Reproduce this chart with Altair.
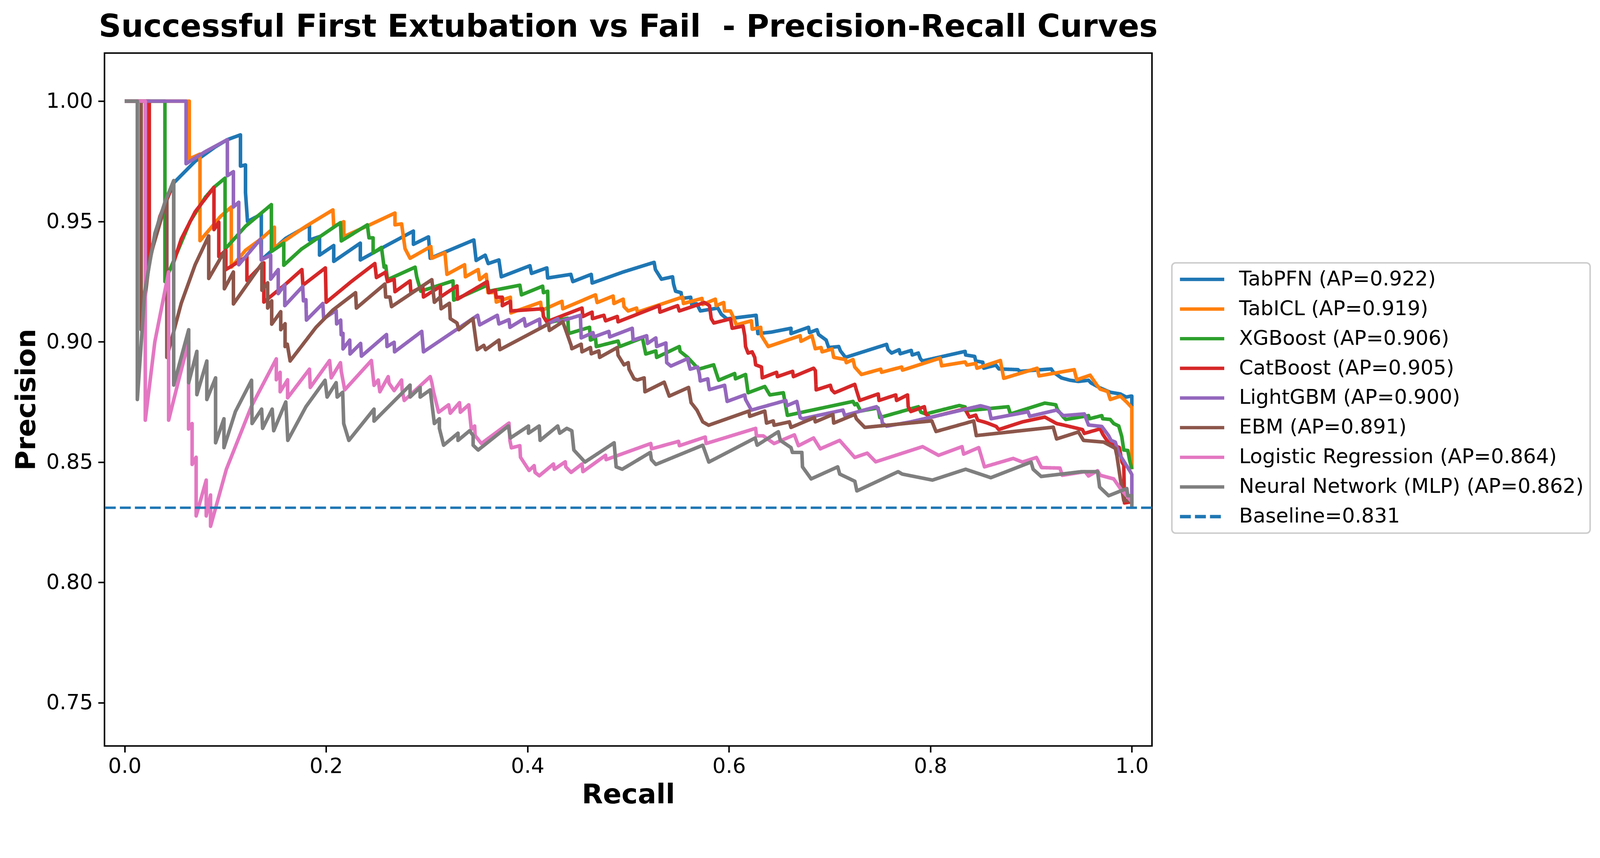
import altair as alt
import pandas as pd

labels = [
    "TabPFN (AP=0.922)",
    "TabICL (AP=0.919)",
    "XGBoost (AP=0.906)",
    "CatBoost (AP=0.905)",
    "LightGBM (AP=0.900)",
    "EBM (AP=0.891)",
    "Logistic Regression (AP=0.864)",
    "Neural Network (MLP) (AP=0.862)",
]
baseline_label = "Baseline=0.831"
baseline_value = 0.831
colors = ["#1f77b4", "#ff7f0e", "#2ca02c", "#d62728", "#9467bd", "#8c564b", "#e377c2", "#7f7f7f"]
baseline_color = "#1f77b4"

x_ticks = [0.0, 0.2, 0.4, 0.6, 0.8, 1.0]
y_ticks = [0.75, 0.80, 0.85, 0.90, 0.95, 1.00]

# (recall, precision)
tabpfn = [(0.0,1.0),(0.0216,1.0),(0.0216,0.930),(0.035,0.952),(0.0487,0.966),(0.07,0.975),(0.09,0.981),(0.102,0.984),(0.115,0.986),(0.115,0.973),(0.120,0.9735),(0.120,0.962),(0.122,0.950),(0.1357,0.953),(0.1357,0.934),(0.160,0.943),(0.1835,0.9486),(0.1835,0.9423),(0.1935,0.9437),(0.1935,0.936),(0.2076,0.940),(0.2076,0.9334),(0.234,0.941),(0.234,0.934),(0.260,0.940),(0.2867,0.946),(0.2867,0.9405),(0.3017,0.9436),(0.3034,0.9347),(0.3467,0.9423),(0.349,0.9338),(0.358,0.936),(0.361,0.9325),(0.3716,0.934),(0.374,0.927),(0.4024,0.9316),(0.404,0.9284),(0.4192,0.9307),(0.420,0.9265),(0.443,0.928),(0.445,0.925),(0.4633,0.928),(0.4642,0.9244),(0.495,0.929),(0.5257,0.933),(0.527,0.930),(0.533,0.926),(0.544,0.927),(0.545,0.924),(0.547,0.921),(0.5525,0.9204),(0.5532,0.918),(0.562,0.9185),(0.563,0.9155),(0.568,0.9158),(0.5716,0.9128),(0.589,0.914),(0.5925,0.9114),(0.598,0.9095),(0.627,0.911),(0.6287,0.9034),(0.642,0.904),(0.6616,0.9056),(0.6616,0.9034),(0.679,0.906),(0.680,0.9038),(0.6874,0.905),(0.689,0.903),(0.6965,0.9007),(0.699,0.8976),(0.709,0.898),(0.7107,0.8962),(0.7157,0.8935),(0.7565,0.8989),(0.758,0.8967),(0.7615,0.8953),(0.769,0.8967),(0.770,0.895),(0.781,0.8964),(0.782,0.8945),(0.788,0.8953),(0.790,0.893),(0.792,0.892),(0.8345,0.896),(0.835,0.8945),(0.844,0.8939),(0.845,0.892),(0.852,0.8915),(0.853,0.889),(0.865,0.8903),(0.868,0.8887),(0.887,0.8884),(0.8887,0.8877),(0.920,0.8887),(0.922,0.8874),(0.930,0.885),(0.9386,0.884),(0.947,0.8835),(0.957,0.884),(0.9594,0.8829),(0.968,0.8809),(0.9786,0.879),(0.9886,0.8783),(0.9944,0.877),(0.999,0.8774),(1.0,0.8774),(1.0,0.873)]

tabicl = [(0.0,1.0),(0.0642,1.0),(0.0642,0.976),(0.0748,0.978),(0.0748,0.942),(0.085,0.947),(0.095,0.952),(0.1059,0.956),(0.1059,0.931),(0.120,0.938),(0.1363,0.943),(0.1487,0.9476),(0.1487,0.939),(0.1568,0.9414),(0.180,0.948),(0.2068,0.9548),(0.2076,0.948),(0.2176,0.9499),(0.2176,0.9437),(0.2434,0.9486),(0.2684,0.9535),(0.2684,0.9486),(0.275,0.949),(0.2784,0.9387),(0.2834,0.9347),(0.304,0.9396),(0.305,0.9347),(0.318,0.937),(0.320,0.928),(0.3375,0.932),(0.3383,0.927),(0.351,0.930),(0.3525,0.9258),(0.359,0.928),(0.3608,0.9204),(0.368,0.9205),(0.369,0.9165),(0.383,0.9185),(0.3835,0.912),(0.413,0.9164),(0.414,0.913),(0.4342,0.9168),(0.435,0.9137),(0.4675,0.9195),(0.4691,0.9163),(0.485,0.919),(0.4858,0.9159),(0.495,0.9177),(0.4958,0.9146),(0.4999,0.9128),(0.5083,0.914),(0.5091,0.9123),(0.554,0.9186),(0.5548,0.9159),(0.5732,0.918),(0.574,0.9155),(0.5865,0.9177),(0.5873,0.915),(0.5948,0.9163),(0.5956,0.9128),(0.6015,0.9128),(0.605,0.9096),(0.6073,0.907),(0.6223,0.9087),(0.6231,0.9052),(0.6315,0.906),(0.6323,0.9025),(0.639,0.898),(0.6707,0.9025),(0.6715,0.9002),(0.6824,0.9025),(0.6857,0.8971),(0.6915,0.8976),(0.6925,0.8958),(0.7024,0.897),(0.704,0.8935),(0.7157,0.8926),(0.7165,0.8913),(0.7232,0.8926),(0.7249,0.8895),(0.7315,0.8864),(0.7507,0.8886),(0.7515,0.8873),(0.7715,0.8895),(0.7723,0.8882),(0.8096,0.8932),(0.8112,0.8900),(0.8345,0.8916),(0.8362,0.8903),(0.845,0.891),(0.8462,0.889),(0.8695,0.8922),(0.8728,0.8848),(0.906,0.889),(0.9078,0.8858),(0.9428,0.8884),(0.9453,0.8842),(0.9586,0.8861),(0.9653,0.882),(0.9686,0.8803),(0.9761,0.8793),(0.9786,0.876),(0.9886,0.8774),(0.9952,0.8748),(0.9994,0.8729),(1.0,0.8726),(1.0,0.847)]

xgboost = [(0.0,1.0),(0.040,1.0),(0.040,0.925),(0.050,0.935),(0.065,0.950),(0.080,0.960),(0.0887,0.9642),(0.0997,0.968),(0.0997,0.9385),(0.120,0.948),(0.1457,0.957),(0.1457,0.9375),(0.158,0.941),(0.158,0.9318),(0.1755,0.9385),(0.195,0.944),(0.2143,0.9495),(0.2151,0.9419),(0.241,0.9486),(0.2426,0.9432),(0.2467,0.9432),(0.2467,0.9369),(0.255,0.9392),(0.2576,0.931),(0.2593,0.9315),(0.261,0.9258),(0.2884,0.931),(0.290,0.927),(0.294,0.921),(0.326,0.9253),(0.3267,0.9173),(0.360,0.9235),(0.3616,0.921),(0.3924,0.9235),(0.394,0.9195),(0.415,0.9231),(0.4158,0.9204),(0.420,0.921),(0.4208,0.9079),(0.440,0.9098),(0.4408,0.9034),(0.4616,0.906),(0.4625,0.9007),(0.4675,0.9016),(0.4683,0.898),(0.4899,0.9003),(0.4915,0.898),(0.5141,0.9016),(0.5174,0.8949),(0.5274,0.8962),(0.5282,0.8935),(0.5507,0.898),(0.5515,0.896),(0.559,0.8935),(0.5699,0.8886),(0.5848,0.8904),(0.5898,0.884),(0.6057,0.8868),(0.6065,0.8846),(0.6165,0.8864),(0.619,0.8788),(0.6356,0.8814),(0.6406,0.8779),(0.654,0.8788),(0.658,0.8694),(0.7232,0.8752),(0.7249,0.8738),(0.727,0.8743),(0.7307,0.8712),(0.748,0.8725),(0.7498,0.8685),(0.7881,0.873),(0.7906,0.8707),(0.7954,0.870),(0.8287,0.8735),(0.8345,0.8729),(0.835,0.8713),(0.8772,0.873),(0.8795,0.870),(0.9136,0.8745),(0.9245,0.8738),(0.926,0.8719),(0.932,0.8687),(0.9344,0.8677),(0.957,0.8693),(0.958,0.868),(0.9702,0.8693),(0.971,0.868),(0.9786,0.8677),(0.982,0.866),(0.987,0.865),(0.990,0.8606),(0.992,0.855),(0.996,0.8548),(0.9977,0.851),(0.9985,0.8496),(1.0,0.847)]

catboost = [(0.0,1.0),(0.0245,1.0),(0.0245,0.933),(0.035,0.952),(0.0487,0.966),(0.0487,0.933),(0.0562,0.9427),(0.070,0.954),(0.0887,0.9642),(0.0887,0.9466),(0.0935,0.9497),(0.0935,0.9354),(0.1005,0.938),(0.1005,0.930),(0.1214,0.9354),(0.1214,0.9255),(0.1382,0.9328),(0.1382,0.9165),(0.160,0.924),(0.176,0.930),(0.177,0.9235),(0.1993,0.9307),(0.2001,0.9164),(0.225,0.925),(0.2484,0.9325),(0.250,0.9267),(0.259,0.9289),(0.261,0.925),(0.2676,0.926),(0.2684,0.9208),(0.2834,0.9253),(0.2842,0.9204),(0.296,0.923),(0.2967,0.9186),(0.3135,0.923),(0.3135,0.9186),(0.330,0.9232),(0.3305,0.9177),(0.360,0.925),(0.3616,0.9204),(0.368,0.9215),(0.369,0.9185),(0.375,0.9185),(0.375,0.915),(0.383,0.9168),(0.3835,0.9128),(0.415,0.9137),(0.4158,0.9105),(0.419,0.9083),(0.4541,0.914),(0.455,0.9105),(0.4641,0.9123),(0.4645,0.9096),(0.4758,0.911),(0.4775,0.9087),(0.4891,0.9105),(0.4899,0.9083),(0.5307,0.915),(0.5315,0.9123),(0.549,0.915),(0.5507,0.9128),(0.5757,0.9163),(0.5807,0.915),(0.5824,0.9096),(0.585,0.9078),(0.6015,0.9095),(0.6032,0.9056),(0.614,0.9065),(0.6157,0.9025),(0.6165,0.898),(0.619,0.8953),(0.623,0.8958),(0.6256,0.8935),(0.6265,0.8904),(0.6323,0.8895),(0.6331,0.885),(0.6473,0.8873),(0.6481,0.8855),(0.6632,0.8877),(0.664,0.8855),(0.684,0.889),(0.6858,0.888),(0.6866,0.880),(0.7007,0.8819),(0.702,0.880),(0.7049,0.8788),(0.7249,0.8823),(0.7265,0.880),(0.7298,0.8756),(0.7482,0.8783),(0.749,0.8756),(0.7656,0.8779),(0.7664,0.8756),(0.7773,0.8779),(0.778,0.873),(0.7806,0.871),(0.794,0.873),(0.7954,0.870),(0.7998,0.8685),(0.835,0.8722),(0.8362,0.8706),(0.8387,0.8687),(0.845,0.8695),(0.847,0.8674),(0.8554,0.8664),(0.8653,0.8648),(0.8678,0.8635),(0.8914,0.8667),(0.9136,0.8687),(0.9253,0.866),(0.932,0.8654),(0.951,0.8635),(0.9528,0.8619),(0.9686,0.8638),(0.9711,0.8616),(0.9769,0.858),(0.9877,0.856),(0.9902,0.850),(0.992,0.8487),(0.9927,0.833),(1.0,0.8335)]

lightgbm = [(0.0,1.0),(0.061,1.0),(0.061,0.974),(0.080,0.979),(0.102,0.984),(0.102,0.969),(0.108,0.9707),(0.108,0.956),(0.1133,0.958),(0.1133,0.932),(0.135,0.9427),(0.1357,0.934),(0.145,0.936),(0.145,0.926),(0.1525,0.930),(0.1525,0.920),(0.159,0.9237),(0.159,0.915),(0.1768,0.923),(0.1775,0.917),(0.180,0.9175),(0.1805,0.909),(0.1968,0.9159),(0.1976,0.9096),(0.210,0.913),(0.2105,0.9074),(0.2145,0.909),(0.215,0.9029),(0.2168,0.9035),(0.2168,0.897),(0.2235,0.9007),(0.2238,0.8949),(0.2343,0.8993),(0.2351,0.894),(0.260,0.903),(0.2605,0.898),(0.2676,0.8998),(0.268,0.8958),(0.295,0.9043),(0.2967,0.8958),(0.3505,0.911),(0.3525,0.907),(0.370,0.911),(0.3716,0.9074),(0.3816,0.9092),(0.3825,0.906),(0.3966,0.9096),(0.398,0.9065),(0.412,0.9094),(0.4125,0.9056),(0.430,0.9096),(0.431,0.9083),(0.4525,0.911),(0.4533,0.9016),(0.465,0.9038),(0.4658,0.902),(0.4808,0.9043),(0.4816,0.902),(0.504,0.9056),(0.5048,0.9007),(0.5183,0.9025),(0.5191,0.8993),(0.5274,0.9016),(0.5282,0.898),(0.5374,0.8995),(0.5382,0.8913),(0.5424,0.8899),(0.559,0.893),(0.5598,0.8913),(0.5615,0.8886),(0.569,0.8895),(0.5707,0.8864),(0.5715,0.8837),(0.579,0.8846),(0.5798,0.8819),(0.5806,0.8801),(0.5957,0.8819),(0.5982,0.8752),(0.6157,0.8779),(0.6165,0.876),(0.6223,0.8716),(0.6565,0.8756),(0.6574,0.8734),(0.6674,0.8752),(0.669,0.872),(0.6707,0.8685),(0.6732,0.868),(0.7132,0.8716),(0.7149,0.8694),(0.7465,0.873),(0.749,0.871),(0.7515,0.8685),(0.7523,0.8662),(0.7565,0.8649),(0.7804,0.8667),(0.8497,0.8734),(0.858,0.8725),(0.8603,0.868),(0.897,0.8709),(0.8986,0.869),(0.9253,0.8716),(0.932,0.8693),(0.9528,0.870),(0.957,0.8654),(0.9702,0.8648),(0.9769,0.861),(0.9794,0.859),(0.9836,0.8583),(0.9869,0.8538),(0.9985,0.846),(1.0,0.8448),(1.0,0.831)]

ebm = [(0.0,1.0),(0.0164,1.0),(0.0164,0.905),(0.025,0.935),(0.0419,0.959),(0.0419,0.8935),(0.0562,0.916),(0.070,0.932),(0.0835,0.944),(0.0835,0.9263),(0.099,0.9375),(0.099,0.922),(0.108,0.929),(0.108,0.9157),(0.1363,0.9325),(0.1363,0.9214),(0.142,0.9245),(0.142,0.914),(0.146,0.917),(0.146,0.9073),(0.155,0.9125),(0.155,0.905),(0.1593,0.9075),(0.1593,0.898),(0.1615,0.899),(0.1643,0.892),(0.190,0.906),(0.2068,0.9132),(0.2293,0.9204),(0.2301,0.914),(0.2584,0.924),(0.2592,0.9186),(0.2634,0.9186),(0.265,0.9146),(0.305,0.9258),(0.3075,0.9164),(0.3133,0.9186),(0.3142,0.9137),(0.3225,0.916),(0.3233,0.9096),(0.330,0.9078),(0.3317,0.905),(0.3458,0.9096),(0.350,0.8967),(0.3566,0.8985),(0.3583,0.8967),(0.3716,0.9007),(0.3725,0.8967),(0.4208,0.9074),(0.4217,0.9047),(0.435,0.9083),(0.4392,0.9034),(0.4433,0.8985),(0.444,0.8971),(0.4533,0.899),(0.4541,0.8958),(0.4625,0.8976),(0.4633,0.895),(0.4708,0.8962),(0.4716,0.8935),(0.4891,0.8976),(0.4899,0.8944),(0.4958,0.8904),(0.500,0.8913),(0.5008,0.8886),(0.5058,0.8846),(0.5091,0.8841),(0.5158,0.885),(0.5166,0.8792),(0.5357,0.8832),(0.5407,0.8774),(0.5599,0.881),(0.5624,0.8747),(0.5682,0.8716),(0.574,0.8667),(0.5798,0.8653),(0.6198,0.8712),(0.6206,0.869),(0.6356,0.8712),(0.6373,0.8662),(0.644,0.8671),(0.6448,0.8653),(0.660,0.8667),(0.6616,0.8644),(0.6849,0.8685),(0.6857,0.8667),(0.7032,0.8698),(0.704,0.8662),(0.7249,0.8698),(0.7265,0.868),(0.7348,0.8644),(0.8014,0.8671),(0.8056,0.8627),(0.843,0.8671),(0.8456,0.861),(0.922,0.8645),(0.9253,0.8596),(0.947,0.8625),(0.952,0.859),(0.972,0.8583),(0.9836,0.8557),(0.9852,0.8525),(0.990,0.839),(0.992,0.834),(1.0,0.834)]

logreg = [(0.0,1.0),(0.0205,1.0),(0.0205,0.8674),(0.030,0.900),(0.0437,0.929),(0.0437,0.8674),(0.0512,0.880),(0.0635,0.900),(0.0635,0.8637),(0.067,0.866),(0.067,0.849),(0.071,0.852),(0.071,0.8276),(0.081,0.8425),(0.081,0.8276),(0.0853,0.8363),(0.0853,0.8233),(0.101,0.847),(0.1257,0.873),(0.1506,0.8929),(0.1506,0.8842),(0.1544,0.8873),(0.1544,0.8792),(0.1618,0.8842),(0.1618,0.8767),(0.1835,0.8886),(0.1843,0.881),(0.2035,0.8922),(0.2051,0.885),(0.2143,0.8913),(0.2151,0.8877),(0.2185,0.880),(0.245,0.8922),(0.2476,0.8819),(0.2518,0.8841),(0.2534,0.8792),(0.2617,0.8855),(0.2625,0.8828),(0.2676,0.8797),(0.275,0.8841),(0.2755,0.880),(0.2776,0.8756),(0.3034,0.8855),(0.305,0.883),(0.3067,0.8792),(0.3117,0.8707),(0.3217,0.8738),(0.3233,0.8703),(0.3325,0.8747),(0.3333,0.8707),(0.3417,0.8738),(0.3442,0.8636),(0.3475,0.865),(0.348,0.861),(0.3542,0.8577),(0.3816,0.8662),(0.3825,0.859),(0.384,0.8559),(0.3924,0.8568),(0.393,0.852),(0.4016,0.8465),(0.4066,0.8485),(0.4075,0.8457),(0.4117,0.8443),(0.4258,0.8492),(0.4266,0.847),(0.4375,0.8501),(0.438,0.848),(0.4433,0.8457),(0.4541,0.8492),(0.455,0.846),(0.4775,0.8528),(0.478,0.851),(0.5224,0.8577),(0.5232,0.8555),(0.550,0.8586),(0.5508,0.8568),(0.5765,0.8604),(0.5773,0.8577),(0.6265,0.864),(0.6273,0.8609),(0.634,0.8609),(0.6448,0.8577),(0.665,0.8613),(0.669,0.8568),(0.684,0.860),(0.6907,0.8555),(0.7099,0.859),(0.7249,0.8519),(0.7373,0.8537),(0.7457,0.8501),(0.7923,0.8564),(0.8081,0.8528),(0.8314,0.8564),(0.833,0.8533),(0.848,0.856),(0.8537,0.848),(0.8822,0.8515),(0.8914,0.850),(0.9053,0.8519),(0.9103,0.8477),(0.9286,0.8475),(0.931,0.8445),(0.9536,0.846),(0.957,0.8442),(0.966,0.8464),(0.9686,0.8445),(0.982,0.843),(0.9886,0.839),(0.996,0.8354),(1.0,0.8335),(1.0,0.833)]

mlp = [(0.0,1.0),(0.0126,1.0),(0.0126,0.876),(0.020,0.921),(0.030,0.945),(0.040,0.958),(0.0487,0.967),(0.0487,0.882),(0.0636,0.905),(0.0636,0.883),(0.0717,0.896),(0.0717,0.878),(0.0816,0.892),(0.0816,0.876),(0.0903,0.885),(0.0903,0.858),(0.0986,0.868),(0.0986,0.856),(0.110,0.871),(0.126,0.884),(0.1265,0.866),(0.136,0.872),(0.137,0.864),(0.1465,0.872),(0.148,0.863),(0.160,0.875),(0.162,0.859),(0.180,0.873),(0.199,0.884),(0.201,0.877),(0.210,0.883),(0.211,0.877),(0.2165,0.879),(0.2175,0.866),(0.2226,0.859),(0.2476,0.872),(0.2476,0.867),(0.2834,0.882),(0.2834,0.877),(0.2934,0.881),(0.2934,0.877),(0.3034,0.880),(0.3075,0.866),(0.3125,0.868),(0.3125,0.864),(0.3167,0.857),(0.331,0.862),(0.331,0.859),(0.3425,0.863),(0.346,0.861),(0.346,0.857),(0.351,0.855),(0.381,0.865),(0.383,0.860),(0.401,0.865),(0.401,0.862),(0.4116,0.865),(0.4125,0.859),(0.430,0.865),(0.432,0.862),(0.439,0.864),(0.444,0.863),(0.446,0.855),(0.457,0.850),(0.486,0.858),(0.488,0.848),(0.494,0.847),(0.522,0.854),(0.523,0.851),(0.5274,0.849),(0.574,0.857),(0.580,0.850),(0.626,0.860),(0.628,0.857),(0.649,0.8626),(0.651,0.859),(0.6616,0.856),(0.663,0.854),(0.6724,0.854),(0.673,0.848),(0.6816,0.843),(0.708,0.848),(0.710,0.845),(0.725,0.842),(0.727,0.838),(0.768,0.846),(0.772,0.845),(0.802,0.8425),(0.835,0.847),(0.860,0.8435),(0.900,0.850),(0.902,0.847),(0.910,0.844),(0.950,0.846),(0.966,0.846),(0.968,0.8396),(0.977,0.836),(0.995,0.839),(0.996,0.836),(1.0,0.836),(1.0,0.831)]

series_points = [tabpfn, tabicl, xgboost, catboost, lightgbm, ebm, logreg, mlp]

all_labels = labels + [baseline_label]
all_colors = colors + [baseline_color]
all_dashes = [[1, 0]] * len(labels) + [[29, 11]]

FONT = "DejaVu Sans"

legend = alt.Legend(
    title=None,
    orient="none",
    legendX=2843,
    legendY=559,
    symbolType="M-1,0H1",
    symbolSize=118 * 118,
    symbolStrokeWidth=9,
    clipHeight=54,
    rowPadding=25,
    padding=17,
    labelOffset=35,
    labelFont=FONT,
    labelFontSize=54,
    labelColor="black",
    labelLimit=2000,
    strokeColor="#cccccc",
    fillColor="white",
    cornerRadius=10,
)

color_enc = alt.Color("label:N", scale=alt.Scale(domain=all_labels, range=all_colors), legend=legend)
dash_enc = alt.StrokeDash("label:N", scale=alt.Scale(domain=all_labels, range=all_dashes), legend=legend)

x_enc = alt.X(
    "recall:Q",
    scale=alt.Scale(domain=[-0.02, 1.02], nice=False, zero=False),
    axis=alt.Axis(title="Recall", values=x_ticks, format=".1f", labelPadding=10, titlePadding=12),
)
y_enc = alt.Y(
    "precision:Q",
    scale=alt.Scale(domain=[0.732, 1.02], nice=False, zero=False),
    axis=alt.Axis(title="Precision", values=y_ticks, format=".2f", labelPadding=14, titlePadding=14),
)

layers = []
for lab, pts in zip(labels, series_points):
    df = pd.DataFrame({
        "label": lab,
        "recall": [p[0] for p in pts],
        "precision": [p[1] for p in pts],
        "idx": list(range(len(pts))),
    })
    layers.append(
        alt.Chart(df).mark_line(strokeWidth=9.5, strokeJoin="round", strokeCap="butt", clip=True).encode(
            x=x_enc, y=y_enc, color=color_enc, strokeDash=dash_enc, order=alt.Order("idx:Q")
        )
    )

base_df = pd.DataFrame({"label": [baseline_label], "precision": [baseline_value]})
layers.append(
    alt.Chart(base_df).mark_rule(strokeWidth=6.5, strokeCap="butt").encode(
        y=y_enc, color=color_enc, strokeDash=dash_enc
    )
)

chart = (
    alt.layer(*layers)
    .properties(
        width=2790,
        height=1846,
        background="white",
        padding={"left": 270, "top": 90, "right": 1185, "bottom": 190},
        autosize=alt.AutoSizeParams(type="none"),
        title=alt.TitleParams(
            text="Successful First Extubation vs Fail \u00a0- Precision-Recall Curves",
            font=FONT,
            fontSize=83,
            fontWeight="bold",
            color="black",
            anchor="middle",
            frame="group",
            baseline="alphabetic",
            offset=-39,
        ),
    )
    .configure_view(stroke="black", strokeWidth=4)
    .configure_axis(
        grid=False,
        domain=False,
        labelFont=FONT,
        labelFontSize=56,
        labelColor="black",
        tickColor="black",
        tickSize=17,
        tickWidth=4,
        titleFont=FONT,
        titleFontSize=73,
        titleFontWeight="bold",
        titleColor="black",
    )
    .configure_legend(strokeWidth=4)
)

chart.save("out.html", embed_options={"renderer": "svg", "actions": False})
